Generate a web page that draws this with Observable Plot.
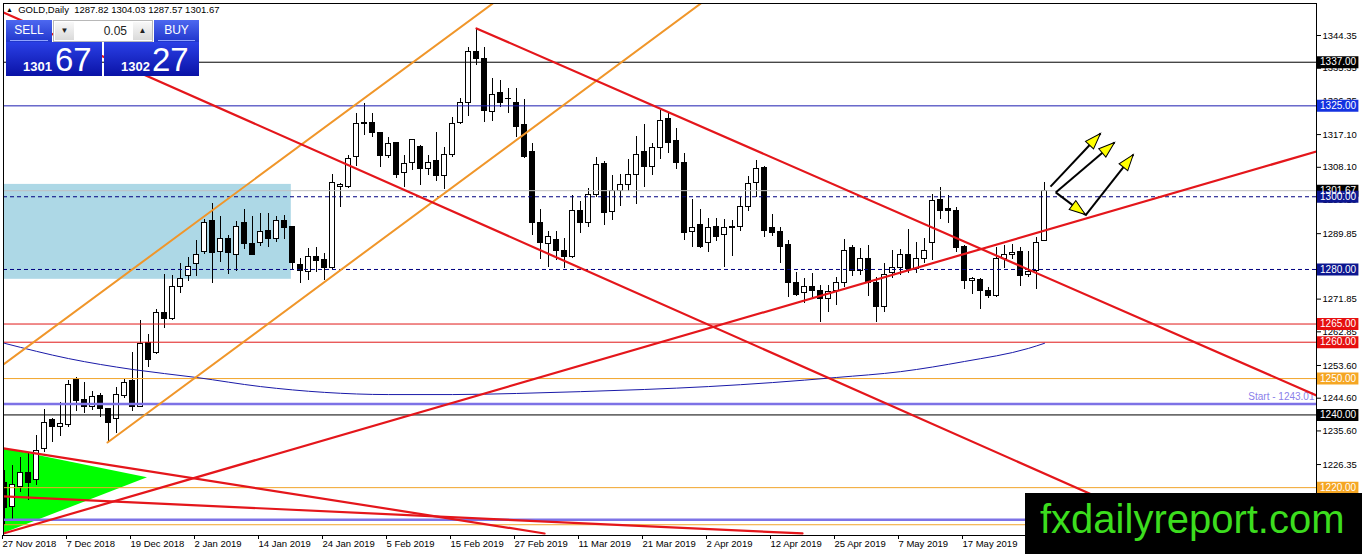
<!DOCTYPE html>
<html><head><meta charset="utf-8">
<script src="https://cdn.jsdelivr.net/npm/d3@7"></script>
<script src="https://cdn.jsdelivr.net/npm/@observablehq/plot@0.6"></script>
<style>
html,body{margin:0;padding:0;background:#fff;overflow:hidden;}
#wrap{position:relative;width:1362px;height:554px;overflow:hidden;font-family:"Liberation Sans",Arial,sans-serif;}
#chart{position:absolute;left:0;top:0;}
.abs{position:absolute;box-sizing:border-box;}
#hdr{left:6px;top:4px;font-size:9.5px;color:#000;white-space:pre;line-height:12px;}
#hdr .tri{font-size:7px;vertical-align:1px;}
.hbtn{top:20px;height:22px;color:#fff;font-size:12px;text-align:center;line-height:21px;background:linear-gradient(#4d68f0,#2036cc);}
.hbtn:after{content:"";position:absolute;left:4px;right:4px;bottom:1px;height:1px;background:#8fa3ff;}
#spin{left:53px;top:20px;width:100px;height:22px;background:#fff;border:1px solid #b8b8b8;}
.sb{top:1px;width:19px;height:18px;background:linear-gradient(#f8f8f8,#dadada);font-size:8px;text-align:center;line-height:18px;color:#222;}
#spinval{right:25px;top:1px;font-size:12px;line-height:18px;color:#222;}
.pbox{top:42px;height:34px;background:linear-gradient(#2a40e6,#0a12a6);color:#fff;}
.small{font-size:13px;font-weight:bold;line-height:13px;top:18px;}
.big{font-size:33px;line-height:33px;top:1px;}
#banner{left:1025px;top:493px;width:337px;height:61px;background:#000;}
#banner span{position:absolute;left:15px;top:6px;font-size:40px;line-height:40px;color:#3cdd1e;white-space:nowrap;}
</style></head>
<body><div id="wrap">
<div id="chart"></div>
<div id="hdr" class="abs"><span class="tri">▲</span>  GOLD,Daily  1287.82 1304.03 1287.57 1301.67</div>
<div class="abs hbtn" style="left:6px;width:46px;">SELL</div>
<div id="spin" class="abs"><div class="abs sb" style="left:1px;">▼</div><div id="spinval" class="abs">0.05</div><div class="abs sb" style="left:79px;">▲</div></div>
<div class="abs hbtn" style="left:154px;width:45px;">BUY</div>
<div class="abs pbox" style="left:6px;width:96px;"><span class="abs small" style="left:17px;">1301</span><span class="abs big" style="left:49px;">67</span></div>
<div class="abs pbox" style="left:104px;width:95px;"><span class="abs small" style="left:17px;">1302</span><span class="abs big" style="left:48px;">27</span></div>
<div id="banner" class="abs"><span>fxdailyreport.com</span></div>
</div>
<script>
// ---- daily candles, bar index 0 = 27 Nov 2018 ----
const opens = [
1221.4,1214.6,1220.3,1223.9,1222.0,1230.5,1238.5,1236.6,1237.1,1249.5,
1244.0,1242.3,1245.1,1241.5,1238.8,1245.1,1249.2,1242.3,1259.7,1256.9,
1267.9,1266.5,1275.1,1278.1,1281.4,1284.7,1293.2,1284.7,1288.3,1284.1,
1292.7,1286.9,1287.2,1290.5,1288.5,1293.2,1291.6,1281.1,1279.2,1283.3,
1282.5,1280.3,1302.8,1302.6,1310.8,1320.2,1320.2,1317.4,1311.1,1314.7,
1306.4,1309.4,1313.8,1307.5,1309.7,1305.6,1311.6,1320.2,1325.9,1339.7,
1338.0,1323.2,1328.4,1326.8,1325.9,1319.6,1312.2,1292.9,1286.9,1288.0,
1285.2,1283.3,1296.2,1292.7,1300.4,1308.9,1295.7,1301.7,1303.1,1306.1,
1312.2,1308.1,1313.3,1321.3,1315.2,1309.2,1290.2,1292.1,1287.2,1291.6,
1289.4,1291.3,1291.8,1297.1,1303.7,1307.8,1291.3,1290.2,1286.6,1276.4,
1273.4,1275.3,1274.2,1271.8,1274.0,1276.2,1285.8,1279.5,1282.8,1276.2,
1269.8,1278.9,1280.3,1283.9,1280.0,1283.0,1287.2,1299.0,1296.5,1296.0,
1286.1,1276.7,1277.0,1274.2,1272.6,1282.8,1284.0,1284.7,1278.6,1279.5,
1287.82];
const highs = [
1224.7,1226.1,1228.3,1229.4,1234.4,1241.5,1239.0,1243.4,1249.5,1250.3,
1248.9,1246.5,1245.9,1241.6,1247.6,1249.8,1257.2,1266.0,1262.1,1269.0,
1278.6,1278.4,1281.7,1283.3,1288.0,1293.8,1298.2,1294.6,1289.4,1293.2,
1296.5,1294.6,1295.4,1295.4,1294.6,1294.9,1291.8,1283.0,1285.8,1286.1,
1284.4,1306.1,1303.7,1311.4,1322.9,1325.7,1322.9,1317.5,1316.3,1314.9,
1311.4,1315.8,1314.1,1311.4,1317.7,1313.6,1321.8,1327.0,1341.1,1346.3,
1341.1,1332.5,1332.0,1329.8,1329.8,1326.8,1314.7,1296.5,1290.5,1290.5,
1288.5,1300.4,1298.7,1302.3,1310.8,1309.7,1305.9,1306.1,1310.3,1316.6,
1319.9,1314.7,1323.7,1322.9,1318.8,1311.9,1299.3,1296.5,1294.0,1294.0,
1293.8,1293.5,1299.8,1305.6,1310.0,1308.3,1295.1,1291.6,1288.0,1279.2,
1277.5,1278.9,1275.6,1275.6,1277.8,1288.3,1286.6,1285.8,1286.6,1277.8,
1281.7,1285.2,1285.5,1291.0,1287.4,1288.5,1300.6,1302.6,1300.4,1297.1,
1286.6,1277.8,1277.5,1275.1,1286.1,1286.6,1286.9,1286.1,1285.0,1288.8,
1304.03];
const lows = [
1209.6,1211.0,1218.7,1216.5,1220.6,1229.7,1232.4,1234.1,1236.6,1241.0,
1240.4,1241.2,1239.3,1232.4,1234.9,1244.5,1241.0,1242.1,1253.1,1256.6,
1263.8,1266.0,1273.4,1276.7,1278.1,1284.1,1276.2,1281.9,1278.6,1279.5,
1285.5,1283.9,1286.3,1286.1,1287.4,1288.3,1280.0,1276.2,1277.0,1279.2,
1277.0,1279.7,1297.1,1302.3,1308.3,1316.9,1316.3,1308.1,1310.5,1305.0,
1302.6,1307.2,1303.1,1305.9,1304.2,1302.0,1310.8,1320.0,1322.1,1336.1,
1320.4,1320.7,1324.6,1322.9,1316.3,1310.6,1289.4,1282.8,1280.6,1282.5,
1280.3,1283.0,1289.9,1291.6,1299.8,1292.1,1293.5,1297.3,1301.5,1297.9,
1302.6,1305.9,1310.3,1311.9,1307.5,1288.0,1286.1,1285.8,1284.7,1287.7,
1280.6,1283.6,1290.5,1296.0,1299.8,1288.8,1289.1,1281.7,1272.3,1272.6,
1270.7,1271.8,1265.4,1268.2,1270.1,1275.1,1278.1,1278.4,1272.6,1265.4,
1268.2,1277.5,1278.4,1278.9,1278.9,1281.7,1282.5,1293.8,1292.7,1284.7,
1274.5,1273.1,1269.0,1272.0,1272.3,1280.3,1282.8,1275.3,1277.8,1274.5,
1287.57];
const closes = [
1214.3,1220.6,1223.9,1221.4,1230.0,1237.9,1236.6,1237.4,1248.1,1243.7,
1242.1,1244.8,1241.5,1237.7,1245.4,1248.9,1242.1,1259.4,1255.0,1267.9,
1266.3,1275.1,1277.5,1280.8,1283.9,1292.9,1284.4,1288.3,1284.4,1291.8,
1286.9,1284.1,1290.2,1288.3,1293.2,1291.3,1281.7,1279.5,1283.3,1282.2,
1280.3,1303.7,1303.1,1310.3,1319.9,1319.9,1317.4,1311.1,1314.4,1306.1,
1308.9,1315.7,1307.5,1309.2,1305.6,1311.6,1319.9,1325.9,1339.7,1338.0,
1323.5,1328.1,1325.9,1327.0,1319.3,1310.8,1292.7,1287.4,1288.8,1285.2,
1283.3,1296.2,1292.7,1300.6,1308.6,1295.4,1301.7,1303.1,1305.9,1311.6,
1308.3,1313.3,1320.7,1314.7,1309.2,1289.9,1291.3,1286.3,1291.3,1288.8,
1291.3,1291.6,1297.1,1303.4,1307.5,1290.5,1289.9,1286.1,1276.2,1273.1,
1275.1,1274.0,1271.8,1273.7,1276.4,1285.0,1279.5,1282.8,1276.4,1269.8,
1278.4,1280.3,1283.9,1280.0,1283.0,1285.0,1298.7,1296.2,1296.0,1285.8,
1276.7,1277.3,1274.0,1272.6,1282.8,1284.1,1284.4,1278.1,1279.2,1287.4,
1301.67];

// moving average (read at some bars)
const maBars   = [0,8,16,24,32,40,48,56,64,72,80,88,96,104,112,120,128,130];
const maValues = [1259.7,1255.5,1252.5,1250.3,1247.8,1246.2,1245.6,1245.6,1245.9,1246.4,1247.0,1247.8,1248.9,1250.3,1251.9,1254.7,1258.3,1259.7];

// axis labels
const dateBars   = [0,8,16,24,32,40,48,56,64,72,80,88,96,104,112,120];
const dateLabels = ["27 Nov 2018","7 Dec 2018","19 Dec 2018","2 Jan 2019","14 Jan 2019","24 Jan 2019","5 Feb 2019","15 Feb 2019","27 Feb 2019","11 Mar 2019","21 Mar 2019","2 Apr 2019","12 Apr 2019","25 Apr 2019","7 May 2019","17 May 2019"];
const priceTicks = [1344.35,1335.35,1326.35,1317.10,1308.10,1299.10,1289.85,1271.85,1262.85,1253.60,1244.60,1235.60,1226.35,1217.35];

// horizontal levels
const bidPrice = 1301.67;
const blackLevels  = [1337, 1240];
const blueLevels   = [1325];
const dashedLevels = [1300, 1280];
const redLevels    = [1265, 1260];
const orangeLevels = [1250, 1220, 1209.8];
const purpleLevels = [1243.01, 1211.2];
const startLevel   = 1243.01;
const tagPrices    = [1337, 1325, 1301.67, 1300, 1280, 1265, 1260, 1250, 1240, 1220];

// objects (bar index, price)
const zoneBars   = [-0.125, 35.85];
const zonePrices = [1277.3, 1303.4];
const orangeChannelUpper = [[-0.125,1253.9],[61,1353.1]];
const orangeChannelLower = [[12.875,1232.4],[87,1353.1]];
const redLineA = [[59,1346.3],[164,1245.35]];
const redLineB = [[-0.125,1350.7],[147.4,1206.9]];
const redLineC = [[-0.125,1207.4],[164,1312.45]];
const redLineD = [[-0.125,1230.8],[67.5,1207.4]];
const redLineE = [[-0.125,1217.6],[99.75,1207.4]];
const greenTriangle = [{x:-0.125, lo:1207.4, hi:1230.8},{x:17.875, lo:1222.7, hi:1222.7}];
const arrowFrom = [[130.75,1302.8],[131.4,1301.2],[131.4,1301.2],[135.1,1294.8]];
const arrowTo   = [[137.0,1317.4],[138.75,1314.9],[135.1,1295.1],[141.1,1311.6]];

// ---- build ----
const W = 1362, H = 554, mL = 3, mR = 46, mT = 3, mB = 19;
const xDom = [-0.125, 164], yDom = [1206.84, 1353.15];
const kx = (W - mL - mR) / (xDom[1] - xDom[0]);
const ky = (H - mT - mB) / (yDom[1] - yDom[0]);

const candles = opens.map((o, i) => ({i, o, h: highs[i], l: lows[i], c: closes[i]}));
const ma = maBars.map((b, k) => ({b, v: maValues[k]}));
const arrows = arrowFrom.map((f, k) => ({x1: f[0], y1: f[1], x2: arrowTo[k][0], y2: arrowTo[k][1]}));
const tagColor = p => p === 1325 ? "#1432e0" : (p === 1300 || p === 1280) ? "#0c1690" : (p === 1265 || p === 1260) ? "#e60f0f" : (p === 1250 || p === 1220) ? "#f5a623" : "#000";

const headSymbol = {draw(ctx){ ctx.moveTo(0,0); ctx.lineTo(-5.5,16); ctx.lineTo(5.5,16); ctx.closePath(); }};
const ln = (pts, stroke, sw) => Plot.line(pts, {x: d => d[0], y: d => d[1], stroke, strokeWidth: sw, clip: true});

const chart = Plot.plot({
  width: W, height: H,
  marginLeft: mL, marginRight: mR, marginTop: mT, marginBottom: mB,
  style: {fontFamily: "'Liberation Sans', Arial, sans-serif", fontSize: "9.5px", background: "white", overflow: "visible"},
  x: {domain: xDom, axis: null},
  y: {domain: yDom, axis: null},
  marks: [
    Plot.rect([0], {x1: zoneBars[0], x2: zoneBars[1], y1: zonePrices[0], y2: zonePrices[1], fill: "#add8e6", clip: true}),
    Plot.areaY(greenTriangle, {x: "x", y1: "lo", y2: "hi", fill: "#00ff00", clip: true}),
    // candles
    Plot.ruleX(candles, {x: "i", y1: "l", y2: "h", stroke: "black", strokeWidth: 1, clip: true, shapeRendering: "crispEdges"}),
    Plot.rect(candles, {x1: d => d.i - 0.27, x2: d => d.i + 0.27, y1: d => Math.min(d.o, d.c), y2: d => Math.max(d.o, d.c),
      fill: d => d.c >= d.o ? "white" : "black", stroke: "black", strokeWidth: 1, clip: true, shapeRendering: "crispEdges"}),
    // horizontal levels
    Plot.ruleY([bidPrice], {stroke: "#c0c0c0"}),
    Plot.ruleY(blackLevels, {stroke: "black"}),
    Plot.ruleY(blueLevels, {stroke: "#1c1cb0"}),
    Plot.ruleY(dashedLevels, {stroke: "#000080", strokeDasharray: "4,3"}),
    Plot.ruleY(redLevels, {stroke: "#e01818"}),
    Plot.ruleY(orangeLevels, {stroke: "#f2a52a"}),
    Plot.ruleY(purpleLevels, {stroke: "#7d72e6", strokeWidth: 2.5}),
    Plot.text([startLevel], {x: 163.75, y: d => d, text: d => "Start - " + d.toFixed(2), textAnchor: "end", dy: -7, fill: "#8b80ea", fontSize: 10}),
    // moving average
    Plot.line(ma, {x: "b", y: "v", stroke: "#1a1aa8", strokeWidth: 1, curve: "monotone-x", clip: true}),
    // trend lines
    ln(orangeChannelUpper, "#f0962a", 2),
    ln(orangeChannelLower, "#f0962a", 2),
    ln(redLineA, "#e4161b", 2.2),
    ln(redLineB, "#e4161b", 2.2),
    ln(redLineC, "#e4161b", 2.2),
    ln(redLineD, "#e4161b", 2.2),
    ln(redLineE, "#e4161b", 2.2),
    // arrows
    Plot.link(arrows, {x1: "x1", y1: "y1", x2: "x2", y2: "y2", stroke: "black", strokeWidth: 2}),
    Plot.dot(arrows, {x: "x2", y: "y2", symbol: headSymbol, r: 5, fill: "#ffff00", stroke: "black", strokeWidth: 1,
      rotate: d => Math.atan2((d.x2 - d.x1) * kx, (d.y2 - d.y1) * ky) * 180 / Math.PI}),
    // axes
    Plot.axisY({anchor: "right", ticks: priceTicks, tickFormat: d => d.toFixed(2), tickSize: 4, tickPadding: 2, label: null, fill: "black"}),
    Plot.axisX({anchor: "bottom", ticks: dateBars, tickFormat: d => dateLabels[dateBars.indexOf(d)], tickSize: 4, tickPadding: 1, textAnchor: "start", dx: -2, label: null}),
    // price tags
    Plot.ruleY(tagPrices, {y: d => d, x1: 164.125, x2: 169.3, stroke: d => tagColor(d), strokeWidth: 12}),
    Plot.text(tagPrices, {y: d => d, x: 166.7, text: d => d.toFixed(2), fill: "white", fontSize: 10}),
    Plot.frame({stroke: "black"})
  ]
});
document.getElementById("chart").appendChild(chart);
</script>
</body></html>
